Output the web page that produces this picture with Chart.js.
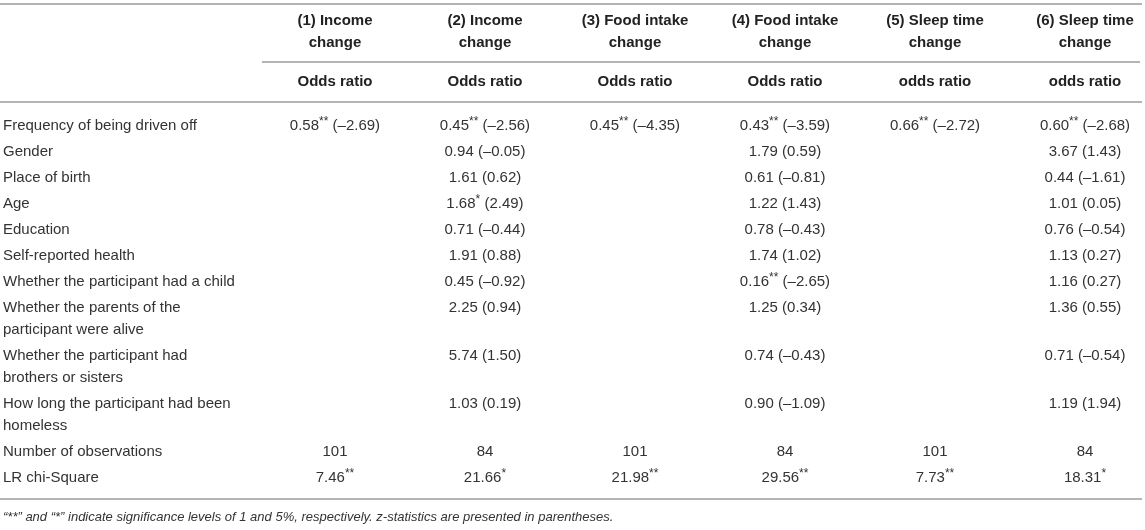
<!DOCTYPE html>
<html>
<head>
<meta charset="utf-8">
<script src="https://cdn.jsdelivr.net/npm/chart.js@4.4.1/dist/chart.umd.min.js"></script>
<style>
  html, body { margin: 0; padding: 0; background: #fff; }
  #wrap { position: relative; width: 1145px; height: 530px; }
</style>
</head>
<body>
<div id="wrap"><canvas id="odds-table"></canvas></div>
<script>
// table content
const models = [
  ["(1) Income", "change"],
  ["(2) Income", "change"],
  ["(3) Food intake", "change"],
  ["(4) Food intake", "change"],
  ["(5) Sleep time", "change"],
  ["(6) Sleep time", "change"]
];
const statNames = ["Odds ratio", "Odds ratio", "Odds ratio", "Odds ratio", "odds ratio", "odds ratio"];
const variables = [
  ["Frequency of being driven off"],
  ["Gender"],
  ["Place of birth"],
  ["Age"],
  ["Education"],
  ["Self-reported health"],
  ["Whether the participant had a child"],
  ["Whether the parents of the", "participant were alive"],
  ["Whether the participant had", "brothers or sisters"],
  ["How long the participant had been", "homeless"]
];

// odds ratios, z-statistics and significance stars per model
const or1 = [0.58, null, null, null, null, null, null, null, null, null];
const z1 = [-2.69, null, null, null, null, null, null, null, null, null];
const sig1 = ["**", "", "", "", "", "", "", "", "", ""];
const or2 = [0.45, 0.94, 1.61, 1.68, 0.71, 1.91, 0.45, 2.25, 5.74, 1.03];
const z2 = [-2.56, -0.05, 0.62, 2.49, -0.44, 0.88, -0.92, 0.94, 1.50, 0.19];
const sig2 = ["**", "", "", "*", "", "", "", "", "", ""];
const or3 = [0.45, null, null, null, null, null, null, null, null, null];
const z3 = [-4.35, null, null, null, null, null, null, null, null, null];
const sig3 = ["**", "", "", "", "", "", "", "", "", ""];
const or4 = [0.43, 1.79, 0.61, 1.22, 0.78, 1.74, 0.16, 1.25, 0.74, 0.90];
const z4 = [-3.59, 0.59, -0.81, 1.43, -0.43, 1.02, -2.65, 0.34, -0.43, -1.09];
const sig4 = ["**", "", "", "", "", "", "**", "", "", ""];
const or5 = [0.66, null, null, null, null, null, null, null, null, null];
const z5 = [-2.72, null, null, null, null, null, null, null, null, null];
const sig5 = ["**", "", "", "", "", "", "", "", "", ""];
const or6 = [0.60, 3.67, 0.44, 1.01, 0.76, 1.13, 1.16, 1.36, 0.71, 1.19];
const z6 = [-2.68, 1.43, -1.61, 0.05, -0.54, 0.27, 0.27, 0.55, -0.54, 1.94];
const sig6 = ["**", "", "", "", "", "", "", "", "", ""];

const observations = [101, 84, 101, 84, 101, 84];
const lrChi = [7.46, 21.66, 21.98, 29.56, 7.73, 18.31];
const lrSig = ["**", "*", "**", "**", "**", "*"];

const footnote = "\u201c**\u201d and \u201c*\u201d indicate significance levels of 1 and 5%, respectively. z-statistics are presented in parentheses.";

// layout (in scale units: one column = 1 on x, one row = 1 on y)
const LABEL_X = -1.213;
const LINE = 22 / 26;
const HEAD_Y = [-4.04, -3.19];
const STAT_Y = -1.69;
const FOOT_Y = 15.04;
const FAMILY = '"Liberation Sans", Arial, Helvetica, sans-serif';

const orCols = [or1, or2, or3, or4, or5, or6];
const zCols = [z1, z2, z3, z4, z5, z6];
const sigCols = [sig1, sig2, sig3, sig4, sig5, sig6];

const fmt = (v) => (v < 0 ? "\u2013" : "") + Math.abs(v).toFixed(2);

// row positions: two-line rows take an extra line
const rowY = [];
let yy = 0;
variables.forEach((lines) => {
  rowY.push(yy);
  yy += 1 + LINE * (lines.length - 1);
});
const obsY = yy;
const lrY = yy + 1;

const labelPts = [];
const labelCells = [];
variables.forEach((lines, i) => {
  lines.forEach((ln, k) => {
    labelPts.push({ x: LABEL_X, y: rowY[i] + k * LINE });
    labelCells.push([{ t: ln }]);
  });
});
labelPts.push({ x: LABEL_X, y: obsY });
labelCells.push([{ t: "Number of observations" }]);
labelPts.push({ x: LABEL_X, y: lrY });
labelCells.push([{ t: "LR chi-Square" }]);

const headPts = [];
const headCells = [];
models.forEach((lines, m) => {
  lines.forEach((ln, k) => {
    headPts.push({ x: m + 1, y: HEAD_Y[k] });
    headCells.push([{ t: ln }]);
  });
  headPts.push({ x: m + 1, y: STAT_Y });
  headCells.push([{ t: statNames[m] }]);
});

const valueSets = orCols.map((ors, m) => {
  const pts = [];
  const cells = [];
  ors.forEach((v, r) => {
    if (v === null) return;
    pts.push({ x: m + 1, y: rowY[r] });
    cells.push([{ t: fmt(v) }, { t: sigCols[m][r], sup: true }, { t: " (" + fmt(zCols[m][r]) + ")" }]);
  });
  pts.push({ x: m + 1, y: obsY });
  cells.push([{ t: String(observations[m]) }]);
  pts.push({ x: m + 1, y: lrY });
  cells.push([{ t: fmt(lrChi[m]) }, { t: lrSig[m], sup: true }]);
  return {
    label: models[m].join(" "),
    data: pts,
    cells: cells,
    textFont: "15px " + FAMILY,
    textColor: "#333",
    textAlign: "center",
    pointRadius: 0
  };
});

// horizontal rules: [y, xFrom, xTo]
const rules = [
  [-4.71, -1.233, 6.38],
  [-2.46, 0.513, 6.367],
  [-0.92, -1.233, 6.38],
  [14.35, -1.233, 6.38]
];

const tableText = {
  id: "tableText",
  beforeDatasetsDraw(chart) {
    const { ctx, scales: { x, y } } = chart;
    ctx.save();
    ctx.strokeStyle = "#b4b4b4";
    ctx.lineWidth = 2;
    rules.forEach(([ry, x0, x1]) => {
      const py = Math.round(y.getPixelForValue(ry));
      ctx.beginPath();
      ctx.moveTo(x.getPixelForValue(x0), py);
      ctx.lineTo(x.getPixelForValue(x1), py);
      ctx.stroke();
    });
    ctx.restore();
  },
  afterDatasetsDraw(chart) {
    const ctx = chart.ctx;
    ctx.save();
    ctx.textBaseline = "middle";
    ctx.textAlign = "left";
    chart.data.datasets.forEach((ds, di) => {
      const meta = chart.getDatasetMeta(di);
      const supFont = ds.textFont.replace(/\d+px/, "12px");
      meta.data.forEach((pt, i) => {
        const segs = ds.cells[i];
        let total = 0;
        segs.forEach((s) => {
          ctx.font = s.sup ? supFont : ds.textFont;
          total += ctx.measureText(s.t).width;
        });
        let cx = ds.textAlign === "center" ? pt.x - total / 2 : pt.x;
        ctx.fillStyle = ds.textColor;
        segs.forEach((s) => {
          ctx.font = s.sup ? supFont : ds.textFont;
          ctx.fillText(s.t, cx, s.sup ? pt.y - 4 : pt.y);
          cx += ctx.measureText(s.t).width;
        });
      });
    });
    ctx.restore();
  }
};

new Chart(document.getElementById("odds-table").getContext("2d"), {
  type: "scatter",
  data: {
    datasets: [
      {
        label: "Variables",
        data: labelPts,
        cells: labelCells,
        textFont: "15px " + FAMILY,
        textColor: "#333",
        textAlign: "left",
        pointRadius: 0
      },
      {
        label: "Header",
        data: headPts,
        cells: headCells,
        textFont: "bold 15px " + FAMILY,
        textColor: "#222",
        textAlign: "center",
        pointRadius: 0
      },
      ...valueSets,
      {
        label: "Note",
        data: [{ x: LABEL_X, y: FOOT_Y }],
        cells: [[{ t: footnote }]],
        textFont: "italic 13px " + FAMILY,
        textColor: "#333",
        textAlign: "left",
        pointRadius: 0
      }
    ]
  },
  options: {
    responsive: true,
    maintainAspectRatio: false,
    animation: false,
    events: [],
    layout: { padding: 0 },
    plugins: {
      legend: { display: false },
      tooltip: { enabled: false }
    },
    scales: {
      x: { type: "linear", display: false, min: -1.233, max: 6.4 },
      y: { type: "linear", display: false, min: -4.846, max: 15.54, reverse: true }
    }
  },
  plugins: [tableText]
});
</script>
</body>
</html>
